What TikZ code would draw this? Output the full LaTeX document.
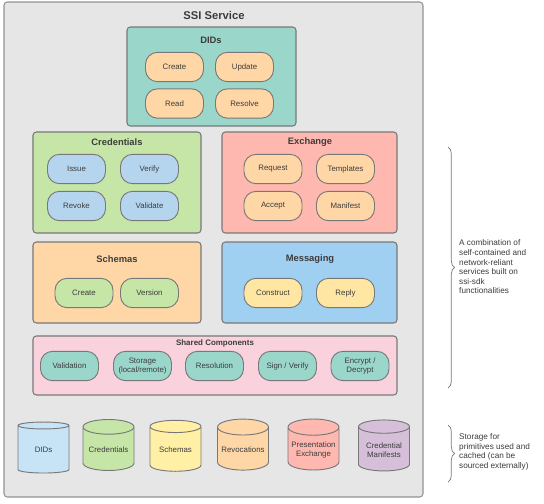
\documentclass[tikz,border=0pt]{standalone}
\usepackage{fontspec}
\setmainfont{Liberation Sans}
\usetikzlibrary{shapes,arrows,positioning,calc,fit,backgrounds,decorations.pathreplacing}
\definecolor{framegray}{RGB}{230,230,230}
\definecolor{linegray}{RGB}{120,120,120}
\definecolor{textgray}{RGB}{60,60,60}
\definecolor{tealfill}{RGB}{155,214,203}
\definecolor{peachfill}{RGB}{255,215,166}
\definecolor{greenfill}{RGB}{198,230,168}
\definecolor{bluepill}{RGB}{181,213,239}
\definecolor{salmonfill}{RGB}{255,184,176}
\definecolor{skyfill}{RGB}{159,208,242}
\definecolor{yellowpill}{RGB}{255,230,163}
\definecolor{pinkfill}{RGB}{249,210,221}
\definecolor{icefill}{RGB}{198,228,246}
\definecolor{lemonfill}{RGB}{255,240,165}
\definecolor{lilacfill}{RGB}{213,191,217}

\begin{document}
\begin{tikzpicture}[x=0.3mm, y=-0.3mm,
    group/.style={draw=linegray, line width=0.9pt, rounded corners=1mm, inner sep=0pt},
    grouptitle/.style={font=\fontsize{8}{9}\selectfont\bfseries, text=textgray, inner sep=0pt},
    pill/.style={draw=linegray, line width=0.8pt, rounded corners=3.6mm, minimum width=17.4mm, minimum height=8.8mm, align=center, inner sep=1pt, font=\fontsize{6.7}{7.6}\selectfont, text=textgray},
    store/.style={cylinder, shape border rotate=90, aspect=0.35, draw=linegray, line width=0.8pt, minimum width=15.3mm, minimum height=15.3mm, align=center, inner sep=1pt, font=\fontsize{6.7}{7.6}\selectfont, text=textgray},
    note/.style={anchor=west, align=left, inner sep=0pt, font=\fontsize{7}{8.2}\selectfont, text=textgray},
    brace/.style={draw=linegray, line width=0.6pt, decorate, decoration={brace, amplitude=2mm}}]

  \useasboundingbox[fill=white] (0,0) rectangle (544,503);

  % service frame
  \node[draw=linegray!80, fill=framegray, line width=0.9pt, rounded corners=1mm, minimum width=125.7mm, minimum height=148.5mm] (ssi) at (213.5,249.5) {};
  \node[font=\fontsize{9.6}{11}\selectfont\bfseries, text=textgray] (ssititle) at (214,15) {SSI Service};

  % DIDs
  \node[group, fill=tealfill, minimum width=50.7mm, minimum height=29.7mm] (dids) at (211.5,76.5) {};
  \node[grouptitle] (didstitle) at (211,40) {DIDs};
  \node[pill, fill=peachfill] (didcreate) at (174.5,67) {Create};
  \node[pill, fill=peachfill] (didupdate) at (244.5,67) {Update};
  \node[pill, fill=peachfill] (didread) at (174.5,103.5) {Read};
  \node[pill, fill=peachfill] (didresolve) at (244.5,103.5) {Resolve};

  % Credentials
  \node[group, fill=greenfill, minimum width=50.4mm, minimum height=30.3mm] (creds) at (117,182.5) {};
  \node[grouptitle] (credstitle) at (117,142) {Credentials};
  \node[pill, fill=bluepill] (credissue) at (76.5,169) {Issue};
  \node[pill, fill=bluepill] (credverify) at (149.5,169) {Verify};
  \node[pill, fill=bluepill] (credrevoke) at (76.5,206) {Revoke};
  \node[pill, fill=bluepill] (credvalidate) at (149.5,206) {Validate};

  % Exchange
  \node[group, fill=salmonfill, minimum width=52.5mm, minimum height=30.3mm] (exch) at (309.5,182.5) {};
  \node[grouptitle] (exchtitle) at (310,142) {Exchange};
  \node[pill, fill=peachfill] (exchrequest) at (273,169) {Request};
  \node[pill, fill=peachfill] (exchtemplates) at (345.5,169) {Templates};
  \node[pill, fill=peachfill] (exchaccept) at (273,206) {Accept};
  \node[pill, fill=peachfill] (exchmanifest) at (345.5,206) {Manifest};

  % Schemas
  \node[group, fill=peachfill, minimum width=50.4mm, minimum height=24.3mm] (schemas) at (117,282.5) {};
  \node[grouptitle] (schemastitle) at (117,259) {Schemas};
  \node[pill, fill=greenfill] (schcreate) at (84,293) {Create};
  \node[pill, fill=greenfill] (schversion) at (149.5,293) {Version};

  % Messaging
  \node[group, fill=skyfill, minimum width=52.5mm, minimum height=24.3mm] (msg) at (309.5,282.5) {};
  \node[grouptitle] (msgtitle) at (310,259) {Messaging};
  \node[pill, fill=yellowpill] (msgconstruct) at (273,293) {Construct};
  \node[pill, fill=yellowpill] (msgreply) at (345.5,293) {Reply};

  % Shared Components
  \node[group, fill=pinkfill, minimum width=109.2mm, minimum height=17.7mm] (shared) at (215,365.5) {};
  \node[grouptitle, font=\fontsize{6.8}{8}\selectfont\bfseries] (sharedtitle) at (215,343) {Shared Components};
  \node[pill, fill=tealfill] (shvalidation) at (69.5,366) {Validation};
  \node[pill, fill=tealfill] (shstorage) at (142.5,366) {Storage\\(local/remote)};
  \node[pill, fill=tealfill] (shresolution) at (214.5,366) {Resolution};
  \node[pill, fill=tealfill] (shsign) at (287.5,366) {Sign / Verify};
  \node[pill, fill=tealfill] (shcrypt) at (360,366) {Encrypt /\\Decrypt};

  % storage
  \node[store, fill=icefill] (dbdids) at (43.5,450) {DIDs};
  \node[store, fill=greenfill] (dbcreds) at (108.5,450) {Credentials};
  \node[store, fill=lemonfill] (dbschemas) at (175.5,450) {Schemas};
  \node[store, fill=peachfill] (dbrevoc) at (243,450) {Revocations};
  \node[store, fill=salmonfill] (dbpres) at (313.5,450) {Presentation\\Exchange};
  \node[store, fill=lilacfill] (dbmanif) at (384,450) {Credential\\Manifests};

  % side notes
  \coordinate (svctop) at (448,147);
  \coordinate (svcbot) at (448,388);
  \coordinate (stotop) at (448,425);
  \coordinate (stobot) at (448,482);
  \draw[brace] (svctop) -- (svcbot);
  \draw[brace] (stotop) -- (stobot);
  \node[note] (svcnote) at (459,267) {A combination of\\self-contained and\\network-reliant\\services built on\\ssi-sdk\\functionalities};
  \node[note] (stonote) at (459,452) {Storage for\\primitives used and\\cached (can be\\sourced externally)};
\end{tikzpicture}
\end{document}
